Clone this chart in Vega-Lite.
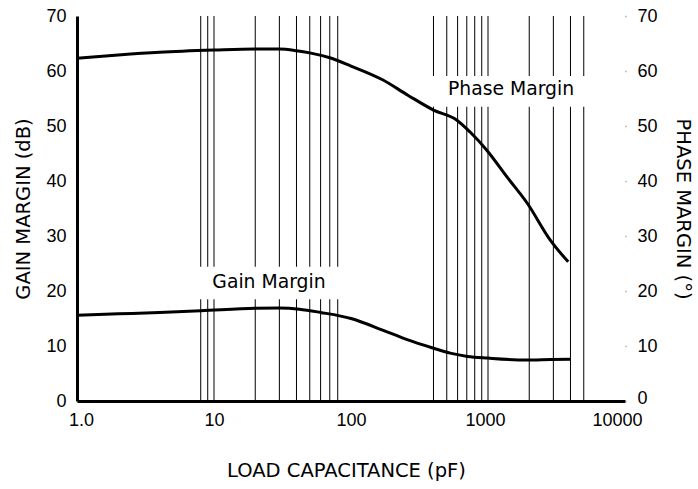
{
  "$schema": "https://vega.github.io/schema/vega-lite/v6.json",
  "width": 548,
  "height": 385,
  "autosize": {"type": "none"},
  "padding": {"left": 77, "top": 16, "right": 73, "bottom": 88},
  "background": "white",
  "config": {
    "view": {"stroke": null},
    "axis": {
      "grid": false,
      "labelFont": "Liberation Sans",
      "labelFontSize": 18,
      "labelColor": "black",
      "labelFlush": false,
      "titleFont": "DejaVu Sans",
      "titleFontSize": 19.5,
      "titleFontWeight": "normal",
      "titleColor": "black"
    }
  },
  "datasets": {
    "grid": [
      {"c": 8}, {"c": 9}, {"c": 10}, {"c": 20}, {"c": 30}, {"c": 40}, {"c": 50}, {"c": 60}, {"c": 70}, {"c": 80},
      {"c": 400}, {"c": 500}, {"c": 600}, {"c": 700}, {"c": 800}, {"c": 900}, {"c": 1000}, {"c": 2000}, {"c": 3000}, {"c": 4000}, {"c": 5000}
    ],
    "boxes": [
      {"c1": 7.6, "c2": 87, "m1": 18.5, "m2": 24.4},
      {"c1": 377, "c2": 5370, "m1": 53.5, "m2": 59.1}
    ],
    "labels": [
      {"c": 25.2, "m": 21.6, "label": "Gain Margin"},
      {"c": 1472, "m": 56.7, "label": "Phase Margin"}
    ],
    "gain": [
      {"c": 1, "m": 15.6}, {"c": 2, "m": 15.85}, {"c": 4, "m": 16.1}, {"c": 8, "m": 16.4},
      {"c": 20, "m": 16.85}, {"c": 30, "m": 16.9}, {"c": 42, "m": 16.7}, {"c": 60, "m": 16.1},
      {"c": 100, "m": 15.0}, {"c": 170, "m": 12.9}, {"c": 260, "m": 11.1}, {"c": 400, "m": 9.6},
      {"c": 530, "m": 8.7}, {"c": 710, "m": 8.1}, {"c": 1000, "m": 7.8}, {"c": 1900, "m": 7.45},
      {"c": 2900, "m": 7.55}, {"c": 4000, "m": 7.6}
    ],
    "phase": [
      {"c": 1, "m": 62.3}, {"c": 2, "m": 62.9}, {"c": 4, "m": 63.4}, {"c": 10, "m": 63.8},
      {"c": 20, "m": 64.0}, {"c": 30, "m": 64.0}, {"c": 40, "m": 63.7}, {"c": 50, "m": 63.3},
      {"c": 70, "m": 62.4}, {"c": 100, "m": 60.9}, {"c": 170, "m": 58.4}, {"c": 260, "m": 55.6},
      {"c": 400, "m": 52.9}, {"c": 590, "m": 51.1}, {"c": 740, "m": 48.9}, {"c": 980, "m": 45.6},
      {"c": 1380, "m": 40.7}, {"c": 1930, "m": 36.0}, {"c": 2840, "m": 29.3}, {"c": 3850, "m": 25.3}
    ]
  },
  "layer": [
    {
      "layer": [
        {
          "data": {"name": "grid"},
          "mark": {"type": "rule", "color": "black", "strokeWidth": 1},
          "encoding": {
            "x": {
              "field": "c", "type": "quantitative",
              "scale": {"type": "log", "domain": [1, 10000], "nice": false},
              "axis": {
                "values": [1, 10, 100, 1000, 10000],
                "labelExpr": "datum.value == 1 ? '1.0' : format(datum.value, 'd')",
                "labelOffset": {
                  "condition": [
                    {"test": "datum.value == 1", "value": 4},
                    {"test": "datum.value == 1000", "value": -3},
                    {"test": "datum.value == 10000", "value": -8}
                  ],
                  "value": 0
                },
                "ticks": false,
                "domainColor": "black",
                "domainWidth": 3,
                "labelPadding": 10,
                "title": "LOAD CAPACITANCE (pF)",
                "titleX": 269,
                "titlePadding": 32
              }
            }
          }
        },
        {
          "mark": {"type": "rule", "color": "black", "strokeWidth": 1},
          "encoding": {"y": {"datum": 20, "type": "quantitative"}}
        },
        {
          "data": {"name": "boxes"},
          "mark": {"type": "rect", "color": "white"},
          "encoding": {
            "x": {"field": "c1", "type": "quantitative"},
            "x2": {"field": "c2"},
            "y": {"field": "m1", "type": "quantitative"},
            "y2": {"field": "m2"}
          }
        },
        {
          "data": {"name": "labels"},
          "mark": {"type": "text", "font": "DejaVu Sans", "fontSize": 18.8, "color": "black", "baseline": "middle", "align": "center"},
          "encoding": {
            "x": {"field": "c", "type": "quantitative"},
            "y": {"field": "m", "type": "quantitative"},
            "text": {"field": "label"}
          }
        },
        {
          "data": {"name": "gain"},
          "mark": {"type": "line", "color": "black", "strokeWidth": 3, "interpolate": "monotone"},
          "encoding": {
            "x": {"field": "c", "type": "quantitative"},
            "y": {
              "field": "m", "type": "quantitative",
              "scale": {"domain": [0, 70], "nice": false},
              "axis": {
                "values": [0, 10, 20, 30, 40, 50, 60, 70],
                "ticks": false,
                "domainColor": "black",
                "domainWidth": 3,
                "labelPadding": 11,
                "title": "GAIN MARGIN (dB)",
                "titlePadding": 12
              }
            }
          }
        }
      ]
    },
    {
      "data": {"name": "phase"},
      "mark": {"type": "line", "color": "black", "strokeWidth": 3, "interpolate": "monotone"},
      "encoding": {
        "x": {"field": "c", "type": "quantitative"},
        "y": {
          "field": "m", "type": "quantitative",
          "scale": {"domain": [0, 70], "nice": false},
          "axis": {
            "orient": "right",
            "values": [0, 10, 20, 30, 40, 50, 60, 70],
            "labelOffset": {"condition": {"test": "datum.value == 0", "value": -3}, "value": 0},
            "domain": false,
            "ticks": true,
            "tickSize": 1,
            "tickWidth": 1.5,
            "tickColor": "#888",
            "labelPadding": 11,
            "title": "PHASE MARGIN (°)",
            "titlePadding": 15
          }
        }
      }
    }
  ],
  "resolve": {"scale": {"y": "independent"}}
}
